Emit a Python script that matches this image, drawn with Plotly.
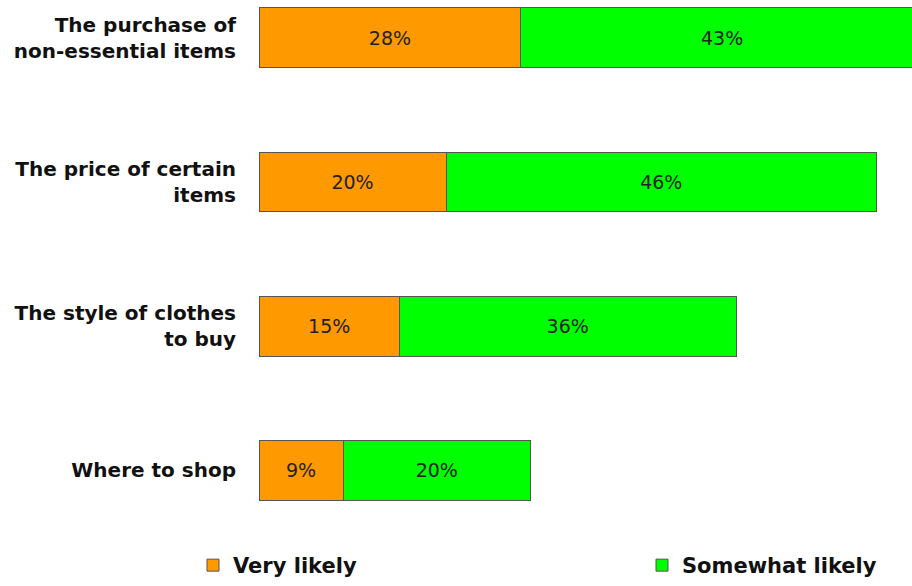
import plotly.graph_objects as go

categories = ["The purchase of<br>non-essential items", "The price of certain<br>items",
              "The style of clothes<br>to buy", "Where to shop"]
very_likely = [28, 20, 15, 9]
somewhat_likely = [43, 46, 36, 20]
series_names = ["Very likely", "Somewhat likely"]
colors = ["#FF9900", "#00FF00"]
legend_ids = ["legend", "legend2"]

fig = go.Figure()
for name, vals, col, lg in zip(series_names, [very_likely, somewhat_likely], colors, legend_ids):
    fig.add_trace(go.Bar(
        y=categories, x=vals, name=name, orientation="h", legend=lg,
        marker=dict(color=col, line=dict(color="#555555", width=1)),
        text=[f"{v}%" for v in vals], textposition="inside", insidetextanchor="middle",
        textfont=dict(family="DejaVu Sans, Verdana, sans-serif", size=19, color="#222222"),
    ))

legend_font = dict(family="DejaVu Sans, Verdana, sans-serif", size=21, color="#111111", weight="bold")
fig.update_layout(
    barmode="stack", bargap=0.586,
    width=912, height=586,
    margin=dict(l=259, r=0, t=0, b=38),
    paper_bgcolor="white", plot_bgcolor="white",
    uniformtext=dict(mode="show", minsize=10),
    xaxis=dict(range=[0, 69.8], visible=False, showgrid=False, zeroline=False),
    yaxis=dict(range=[3.517, -0.262], showgrid=False, zeroline=False, showline=False,
               ticks="", ticklabelstandoff=22,
               tickfont=dict(family="DejaVu Sans, Verdana, sans-serif", size=20, color="#111111", weight="bold")),
    showlegend=True,
    legend=dict(orientation="h", xref="container", yref="container",
                x=193/912, xanchor="left", y=0.0, yanchor="bottom",
                bgcolor="rgba(0,0,0,0)", itemwidth=30, font=legend_font),
    legend2=dict(orientation="h", xref="container", yref="container",
                 x=642/912, xanchor="left", y=0.0, yanchor="bottom",
                 bgcolor="rgba(0,0,0,0)", itemwidth=30, font=legend_font),
)

fig.write_html("out.html")
